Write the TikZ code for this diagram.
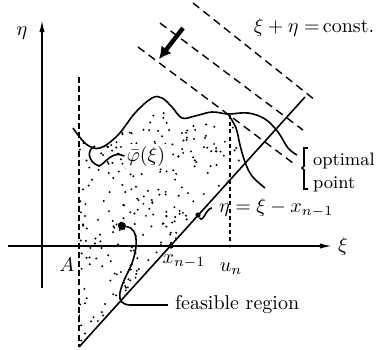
\documentclass[tikz,border=0pt]{standalone}
\usetikzlibrary{arrows.meta}
\begin{document}
\begin{tikzpicture}[
    x=0.5pt, y=-0.5pt,
    every node/.style={font=\normalsize},
    bound/.style={line width=0.8pt},
    level/.style={line width=0.7pt, dash pattern=on 4pt off 2.6pt},
    axis/.style={line width=0.7pt, -{Latex[length=6pt,width=2.6pt]}},
    spot/.style={circle, fill, inner sep=0pt, minimum size=2.6pt}
]
  \useasboundingbox (0,0) rectangle (377,350);
  \def\xA{79}
  \def\yaxis{246}

  % stippled feasible region
  \begin{scope}
    \clip (\xA,60) rectangle (300,350);
    \clip (60,128) -- plot[smooth, tension=0.6] coordinates {
      (73,128) (86,144) (100,148) (118,135) (135,113) (152,98)
      (162,98) (172,107) (182,118) (195,116) (212,112) (228,114)}
      -- (236,128) -- (240,145) -- (245,162) -- (\xA,347) -- (60,347) -- cycle;
    \pgfmathsetseed{11}
    \foreach \k in {1,...,460} {
      \pgfmathsetmacro\px{\xA+170*rnd}
      \pgfmathsetmacro\py{95+252*rnd}
      \fill (\px,\py) circle[radius=1.1];
    }
  \end{scope}

  % axes
  \coordinate (etaB) at (42,288);
  \coordinate (etaT) at (42,20);
  \coordinate (xiL) at (8,\yaxis);
  \coordinate (xiR) at (332,\yaxis);
  \draw[axis] (etaB) -- (etaT);
  \draw[axis] (xiL) -- (xiR);
  \node (eta) at (22,33) {$\eta$};
  \node (xi) at (343,\yaxis) {$\xi$};

  % line xi = A
  \coordinate (Atop) at (\xA,77);
  \coordinate (Abot) at (\xA,347);
  \draw[line width=0.7pt, dash pattern=on 3pt off 1.6pt] (Atop) -- (Abot);
  \node (A) at (67,265) {$A$};

  % eta = xi - x_{n-1}
  \coordinate (diagT) at (305,97);
  \draw[bound] (Abot) -- (diagT);
  \node[spot] (xn) at (171,\yaxis) {};
  \node (xnlbl) at (184,262) {$x_{n-1}$};
  \node[spot] (eqdot) at (198,215) {};
  \node[anchor=west] (eqlbl) at (212,208) {$\eta=\xi-x_{n-1}$};
  \draw[bound] (eqdot) .. controls (203,224) and (206,208) .. (eqlbl.west);

  % level lines xi + eta = const.
  \foreach \ya/\xa/\yb/\xb in {3/193/100/315, 23/160/130/303, 47/138/163/293}
    \draw[level] (\xa,\ya) -- (\xb,\yb);
  \coordinate (arT) at (183,28);
  \coordinate (arH) at (159,59);
  \draw[line width=2.2pt, -{Latex[length=6pt,width=6.5pt]}] (arT) -- (arH);
  \node (const) at (314,27) {$\xi+\eta=$\,const.};

  % boundary curves
  \draw[bound] plot[smooth, tension=0.6] coordinates {
    (73,128) (86,144) (100,148) (118,135) (135,113) (152,98)
    (162,98) (172,107) (182,118) (195,116) (212,112) (228,114)
    (248,113) (265,119) (278,132) (288,148) (297,155)};
  \draw[bound] plot[smooth, tension=0.6] coordinates {
    (228,114) (236,128) (240,145) (245,162) (252,176) (265,188)};

  % optimal point
  \coordinate (opt) at (230,115);
  \node[spot, minimum size=1.6pt] (un) at (230,\yaxis) {};
  \draw[line width=0.7pt, dash pattern=on 2pt off 1.6pt] (opt) -- (un);
  \node (unlbl) at (231,269) {$u_n$};
  \draw[bound] (308,148) -- (304,148) -- (304,166) -- (302,168)
    -- (304,170) -- (304,189) -- (308,189);
  \node[anchor=west, font=\small] (optlbl) at (306,161) {optimal};
  \node[anchor=west, font=\small] (ptlbl) at (306,184) {point};

  % phi bar label
  \node[fill=white, inner sep=1pt] (phi) at (146,156) {$\bar{\varphi}(\xi)$};
  \coordinate (phiend) at (95,146);
  \draw[bound] (phi.west) .. controls (112,150) and (106,163) .. (99,166)
    .. controls (88,162) and (86,150) .. (phiend);

  % feasible region label
  \node[spot, minimum size=4pt] (fdot) at (122,226) {};
  \node[anchor=west] (feas) at (168,305) {feasible region};
  \draw[bound] (fdot) .. controls (140,228) and (138,252) .. (129,270)
    .. controls (119,290) and (114,304) .. (130,305) -- (feas.west);
\end{tikzpicture}
\end{document}
